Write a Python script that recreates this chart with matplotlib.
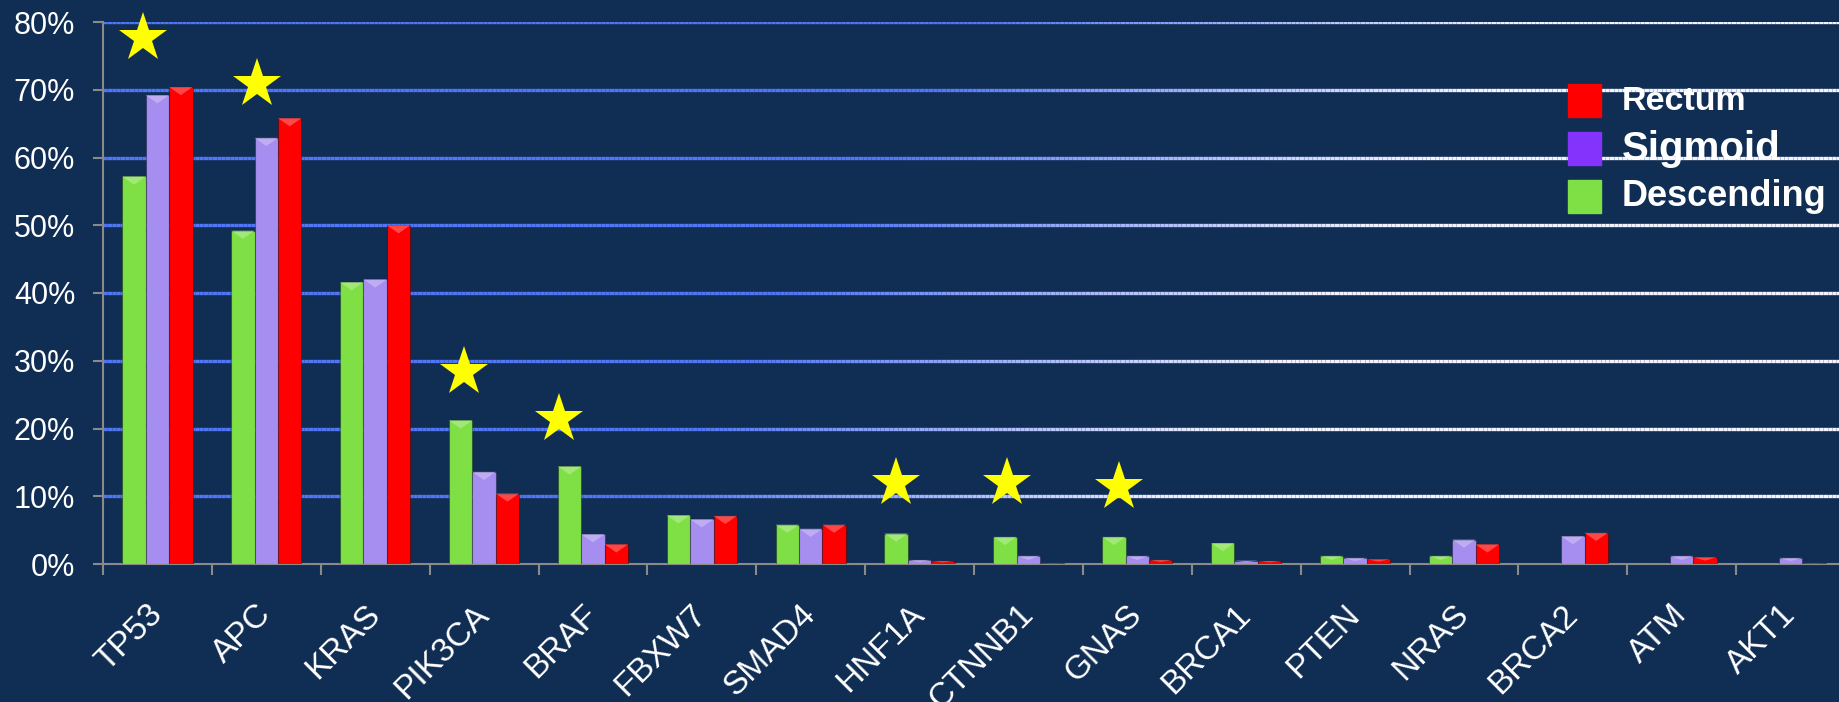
import matplotlib
matplotlib.use("Agg")
import matplotlib.pyplot as plt
import numpy as np
from matplotlib.collections import LineCollection
from matplotlib.patches import Rectangle, Polygon
from matplotlib.colors import to_rgb

plt.rcParams['font.family'] = ['Liberation Sans', 'DejaVu Sans']

genes = ['TP53', 'APC', 'KRAS', 'PIK3CA', 'BRAF', 'FBXW7', 'SMAD4', 'HNF1A',
         'CTNNB1', 'GNAS', 'BRCA1', 'PTEN', 'NRAS', 'BRCA2', 'ATM', 'AKT1']
descending = [57.2, 49.2, 41.6, 21.2, 14.4, 7.2, 5.8, 4.5, 4.0, 4.0, 3.1, 1.2, 1.2, 0.0, 0.0, 0.0]
sigmoid = [69.2, 62.9, 42.0, 13.6, 4.4, 6.6, 5.2, 0.6, 1.2, 1.2, 0.5, 0.9, 3.6, 4.1, 1.2, 0.9]
rectum = [70.4, 65.8, 50.0, 10.4, 2.9, 7.1, 5.8, 0.45, 0.1, 0.6, 0.45, 0.7, 2.9, 4.6, 1.0, 0.1]

# starred genes: (index, x shift in category units, height in %)
star_idx = [0, 1, 3, 4, 7, 8, 9]
star_dx = [-0.13, -0.09, -0.18, -0.31, -0.22, -0.20, -0.17]
star_y = [77.6, 70.9, 28.3, 21.4, 11.9, 11.9, 11.3]

bg = '#102d54'
green = '#7fe046'
lilac = '#a68ef0'
red = '#ff0000'

W, H = 1839, 702
fig = plt.figure(figsize=(W / 100, H / 100), dpi=100, facecolor=bg)
ax = fig.add_axes([103 / W, (H - 564) / H, (1845 - 103) / W, (564 - 22) / H])
ax.set_facecolor(bg)

x = np.arange(len(genes))
bw = 0.215
ax.set_xlim(-0.5, len(genes) - 0.5)
ax.set_ylim(0, 80)

# gradient gridlines, blue on the left fading to white on the right
blue = np.array(to_rgb('#5075f5'))
white = np.array(to_rgb('#f2f3ff'))
xs = np.linspace(-0.5, len(genes) - 0.5, 400)
for yv in range(10, 81, 10):
    segs = [[(xs[k], yv), (xs[k + 1], yv)] for k in range(len(xs) - 1)]
    start = 4.5 + (yv - 10) / 70 * 3.0
    t = np.clip((xs[:-1] - start) / 5.0, 0, 1)
    cols = [tuple(blue * (1 - tt) + white * tt) for tt in t]
    ax.add_collection(LineCollection(segs, colors=cols, linewidths=2.4, zorder=1))

for vals, off, col in [(descending, -bw, green), (sigmoid, 0, lilac), (rectum, bw, red)]:
    ax.bar(x + off, vals, bw, color=col, edgecolor=(0, 0, 0, 0.3), linewidth=0.8, zorder=3)
    light = tuple(np.clip(np.array(to_rgb(col)) * 0.6 + 0.4, 0, 1))
    for xi, v in zip(x + off, vals):
        if v <= 0:
            continue
        cap = min(1.2, v * 0.5)
        ax.add_patch(Polygon([(xi - bw / 2, v), (xi + bw / 2, v), (xi, v - cap)],
                             closed=True, facecolor=light, edgecolor='none', alpha=0.7, zorder=3.5))

sx = [star_idx[k] + star_dx[k] for k in range(len(star_idx))]
ax.plot(sx, star_y, linestyle='none', marker='*', markersize=37, color='#ffff00',
        markeredgewidth=0, zorder=4, clip_on=False)

for s in ['top', 'right']:
    ax.spines[s].set_visible(False)
for s in ['left', 'bottom']:
    ax.spines[s].set_color('#8a8a8a')
    ax.spines[s].set_linewidth(1.5)

ax.set_yticks(range(0, 81, 10))
ax.set_yticklabels([f'{v}%' for v in range(0, 81, 10)])
ax.tick_params(axis='y', colors='#8a8a8a', labelcolor='white', labelsize=22,
               length=7, width=1.5, pad=13)
ax.set_xticks(x)
ax.set_xticklabels(genes, rotation=45, ha='right', va='center', rotation_mode='anchor')
ax.tick_params(axis='x', which='major', length=0, labelcolor='white', labelsize=24, pad=33)
ax.set_xticks(np.arange(-0.5, len(genes), 1), minor=True)
ax.tick_params(axis='x', which='minor', length=8, width=1.5, color='#8a8a8a')

# legend drawn by hand to keep the uneven font sizes
leg = [(red, 'Rectum', 24.5, 101), ('#8333fb', 'Sigmoid', 29, 149),
       (green, 'Descending', 26, 197)]
for col, lab, fs, yc in leg:
    fig.patches.append(Rectangle((1568 / W, (H - yc - 16) / H), 33 / W, 33 / H,
                                 transform=fig.transFigure, color=col, zorder=5))
    fig.text(1622 / W, (H - yc) / H, lab, color='white', fontsize=fs, fontweight='bold',
             va='center', ha='left')

fig.savefig('out.png', dpi=100, facecolor=bg)
